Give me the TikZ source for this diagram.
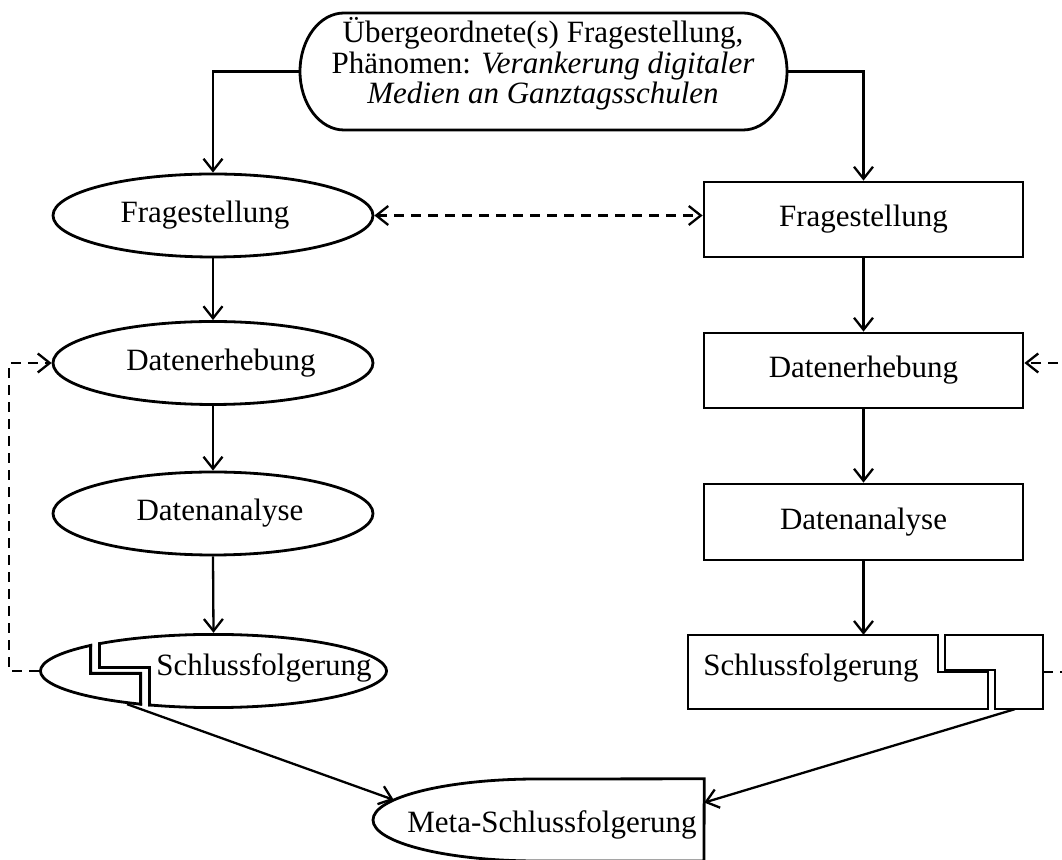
\documentclass[tikz,border=0pt]{standalone}
\usepackage{fontspec}
\setmainfont{Liberation Serif}
\usetikzlibrary{arrows.meta,shapes.geometric,calc}
\begin{document}
\begin{tikzpicture}[x=1pt,y=1pt,
  every node/.style={font=\fontsize{31pt}{29.5pt}\selectfont, inner sep=0pt},
  lw/.style={line width=2.8pt},
  arr/.style={line width=2.3pt, -{Straight Barb[length=12pt,width=19pt]}},
  dsh/.style={dash pattern=on 10pt off 7pt},
  ell/.style={ellipse, draw, line width=2.8pt, minimum width=320pt, minimum height=83pt},
  boxnode/.style={rectangle, draw, line width=2.8pt, minimum width=319pt, minimum height=75pt},
]
\useasboundingbox (0,0) rectangle (1062,859);
\fill[white] (0,0) rectangle (1062,859);
\clip (0,0) rectangle (1062,859);

% top node
\node[rectangle, minimum width=487pt, minimum height=117pt] (top) at (543.5,787.5) {};
\draw[lw] (344,846) -- (743,846) arc[start angle=90,end angle=-90,x radius=44,y radius=58.5]
  -- (344,729) arc[start angle=270,end angle=90,x radius=44,y radius=58.5] -- cycle;
\node[align=center] (toptxt) at (543,795) {Übergeordnete(s) Fragestellung,\\[1pt] Phänomen: \textit{Verankerung digitaler}\\[1pt] \textit{Medien an Ganztagsschulen}};

% left column
\node[ell] (lf) at (213,643.5) {\hspace*{-16pt}Fragestellung};
\node[ell] (ld) at (213,496) {\hspace*{16pt}Datenerhebung};
\node[ell] (la) at (213,345.5) {\hspace*{14pt}Datenanalyse};
\node[ellipse, minimum width=349pt, minimum height=76pt] (ls) at (213.5,188) {};
\node (lstxt) at (264,191) {Schlussfolgerung};

% split ellipse: left piece
\begin{scope}
  \clip (213.5,188) ellipse [x radius=174.5, y radius=38];
  \clip (0,100) -- (0,260) -- (92,260) -- (92,187) -- (142,187) -- (142,100) -- cycle;
  \draw[line width=5.6pt] (213.5,188) ellipse [x radius=174.5, y radius=38];
  \draw[line width=5.6pt] (92,260) -- (92,187) -- (142,187) -- (142,100);
\end{scope}
% split ellipse: right piece
\begin{scope}
  \clip (213.5,188) ellipse [x radius=174.5, y radius=38];
  \clip (98,260) -- (98,190) -- (148,190) -- (148,100) -- (400,100) -- (400,260) -- cycle;
  \draw[line width=5.6pt] (213.5,188) ellipse [x radius=174.5, y radius=38];
  \draw[line width=5.6pt] (98,260) -- (98,190) -- (148,190) -- (148,100);
\end{scope}

% right column
\node[boxnode] (rf) at (863.5,639.5) {Fragestellung};
\node[boxnode] (rd) at (863.5,488.5) {Datenerhebung};
\node[boxnode, minimum height=76pt] (ra) at (863.5,337) {Datenanalyse};
\node[rectangle, minimum width=355pt, minimum height=74pt] (rs) at (865.5,187) {};
\node (rstxt) at (811,191) {Schlussfolgerung};
\draw[lw] (688,224) -- (938,224) -- (938,187) -- (988,187) -- (988,150) -- (688,150) -- cycle;
\draw[lw] (945,224) -- (1043,224) -- (1043,150) -- (995,150) -- (995,189) -- (945,189) -- cycle;

% meta node
\node[rectangle, minimum width=331pt, minimum height=82pt] (meta) at (538.5,39) {};
\node[ellipse, minimum width=328pt, minimum height=82pt] (metaell) at (537,39) {};
\draw[lw] (meta.north east) -- (537,80) arc[start angle=90,end angle=270,x radius=164,y radius=41] -- (704,-2) -- cycle;
\node (metatxt) at (552,34) {Meta-Schlussfolgerung};

% connectors
\draw[arr] (top.west) -| (lf.north);
\draw[arr] (top.east) -| (rf.north);
\draw[arr] (lf.south) -- (ld.north);
\draw[arr] (ld.south) -- (la.north);
\draw[arr] (la.south) -- (ls.north);
\draw[arr] (rf.south) -- (rd.north);
\draw[arr] (rd.south) -- (ra.north);
\draw[arr] (ra.south) -- (ra.south |- rs.north);
\draw[arr, dsh, {Straight Barb[length=12pt,width=19pt]}-{Straight Barb[length=12pt,width=19pt]}] (lf.east) -- (rf.west |- lf.east);
\draw[arr, dsh] (ls.west) -- ++(-30,0) |- (ld.west);
\draw[arr, dsh] (rs.east) -- ++(40,0) |- (rd.east |- ld.west);
\draw[arr] (ls.201) -- (metaell.172);
\draw[arr] (rs.346.8) -- (meta.6.9);
\end{tikzpicture}
\end{document}
